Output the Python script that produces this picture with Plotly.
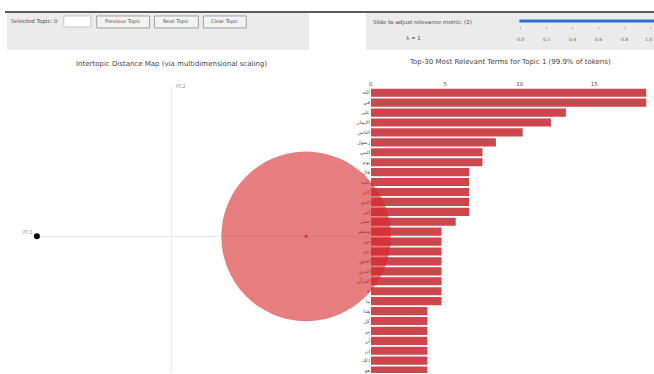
import plotly.graph_objects as go

W, H = 654, 374

# ---------------- data ----------------
topic_ids = [1]
topic_pc1 = [1.35]
topic_pc2 = [0.0]
topic_radius = [0.85]

terms = ["الله", "في", "على", "الإيمان", "الناس", "رسول", "النبي", "يوم", "قال", "عليه",
         "كان", "الذي", "إلى", "صلى", "وسلم", "من", "عن", "الحق", "الدين", "القرآن",
         "لا", "ما", "هذا", "كل", "بن", "أن", "إن", "ذلك", "هو", "لم"]
term_freq = [18.5, 18.5, 13.1, 12.1, 10.2, 8.4, 7.5, 7.5, 6.6, 6.6,
             6.6, 6.6, 6.6, 5.7, 4.75, 4.75, 4.75, 4.75, 4.75, 4.75,
             4.75, 4.75, 3.8, 3.8, 3.8, 3.8, 3.8, 3.8, 3.8, 3.8]
bar_ticks = [0, 5, 10, 15]
lambda_ticks = ["0.0", "0.2", "0.4", "0.6", "0.8", "1.0"]

FONT = "DejaVu Sans"


def px(x):
    return x / W


def py(y):
    return 1 - y / H


fig = go.Figure()

# MDS subplot (full-width canvas, equal 100px/unit scaling)
fig.add_trace(go.Scatter(
    x=topic_pc1, y=topic_pc2, mode="markers",
    marker=dict(size=3, color="rgba(150,30,30,0.8)"),
    xaxis="x", yaxis="y", hoverinfo="skip", showlegend=False))

# Bar chart
fig.add_trace(go.Bar(
    x=term_freq, y=terms, orientation="h",
    marker=dict(color="rgb(204,71,77)", line=dict(width=0)),
    xaxis="x2", yaxis="y2", showlegend=False))

shapes = []
# top dark rule
shapes.append(dict(type="line", xref="paper", yref="paper", x0=px(3), x1=px(654),
                   y0=py(12), y1=py(12), line=dict(color="rgb(90,90,90)", width=2)))
# control panels
for x0, x1 in [(5, 308), (365, 654)]:
    shapes.append(dict(type="rect", xref="paper", yref="paper", x0=px(x0), x1=px(x1),
                       y0=py(50), y1=py(13), fillcolor="rgb(235,235,235)",
                       line=dict(width=0), layer="below"))
# input box
shapes.append(dict(type="rect", xref="paper", yref="paper", x0=px(62), x1=px(89),
                   y0=py(27), y1=py(16), fillcolor="white",
                   line=dict(color="rgb(200,200,200)", width=1)))
# buttons
buttons = [("Previous Topic", 95, 148), ("Next Topic", 153, 197), ("Clear Topic", 202, 245)]
for name, x0, x1 in buttons:
    shapes.append(dict(type="rect", xref="paper", yref="paper", x0=px(x0), x1=px(x1),
                       y0=py(28), y1=py(16), fillcolor="rgb(242,242,242)",
                       line=dict(color="rgb(160,160,160)", width=1)))
# slider
shapes.append(dict(type="line", xref="paper", yref="paper", x0=px(519), x1=px(654),
                   y0=py(21), y1=py(21), line=dict(color="rgb(40,110,210)", width=3)))
for i in range(len(lambda_ticks)):
    xx = 520 + i * 26.2
    shapes.append(dict(type="line", xref="paper", yref="paper", x0=px(xx), x1=px(xx),
                       y0=py(27), y1=py(30), line=dict(color="rgb(190,190,190)", width=1)))

# PC axes lines (data coords)
shapes.append(dict(type="line", xref="x", yref="y", x0=-1.35, x1=2.0, y0=0, y1=0,
                   line=dict(color="rgb(232,232,232)", width=1), layer="below"))
shapes.append(dict(type="line", xref="x", yref="y", x0=0, x1=0, y0=-1.4, y1=1.5,
                   line=dict(color="rgb(232,232,232)", width=1), layer="below"))

# topic circles
for cx, cy, r in zip(topic_pc1, topic_pc2, topic_radius):
    shapes.append(dict(type="circle", xref="x", yref="y", x0=cx - r, x1=cx + r,
                       y0=cy - r, y1=cy + r, fillcolor="#d62728", opacity=0.6,
                       line=dict(width=0), layer="above"))

annotations = []


def txt(t, x, y, size=5.5, color="rgb(80,80,80)", xanchor="left"):
    annotations.append(dict(text=t, xref="paper", yref="paper", x=px(x), y=py(y),
                            xanchor=xanchor, yanchor="middle", showarrow=False,
                            font=dict(family=FONT, size=size, color=color)))


txt("Selected Topic: 0", 7, 21.5, 5.5)
for name, x0, x1 in buttons:
    txt(name, (x0 + x1) / 2, 22, 5, xanchor="center")
txt("Slide to adjust relevance metric: (2)", 370, 23, 5.5)
txt("λ = 1", 413, 38, 5.5, xanchor="center")
for i, lab in enumerate(lambda_ticks[:-1]):
    txt(lab, 520 + i * 26.2, 40, 4.5, color="rgb(100,100,100)", xanchor="center")
txt(lambda_ticks[-1], 654, 40, 4.5, color="rgb(100,100,100)", xanchor="right")

txt("Intertopic Distance Map (via multidimensional scaling)", 170, 64, 7,
    color="rgb(70,70,70)", xanchor="center")
txt("Top-30 Most Relevant Terms for Topic 1 (99.9% of tokens)", 510, 62, 7,
    color="rgb(70,70,70)", xanchor="center")
txt("PC2", 173, 86, 5, color="rgb(150,150,150)")
txt("PC1", 19, 233, 5, color="rgb(150,150,150)")

# black dot near PC1 label
shapes.append(dict(type="circle", xref="paper", yref="paper", x0=px(32), x1=px(38),
                   y0=py(240), y1=py(234), fillcolor="black", line=dict(width=0)))

fig.update_layout(
    width=W, height=H,
    margin=dict(l=0, r=0, t=0, b=0),
    paper_bgcolor="white", plot_bgcolor="rgba(0,0,0,0)",
    shapes=shapes, annotations=annotations,
    bargap=0.18,
    xaxis=dict(domain=[0, 1], range=[-1.70, 4.84], visible=False, fixedrange=True),
    yaxis=dict(domain=[0, py(75)], range=[-1.37, 1.62], visible=False, fixedrange=True),
    xaxis2=dict(domain=[px(370), px(648)], range=[0, 18.62], anchor="y2", side="top",
                tickvals=bar_ticks, showgrid=False, zeroline=False, showline=False,
                ticks="", tickfont=dict(family=FONT, size=5.5, color="rgb(80,80,80)")),
    yaxis2=dict(domain=[0, py(88)], anchor="x2", type="category",
                categoryorder="array", categoryarray=terms,
                range=[28.24, -0.5], showgrid=False, zeroline=False, ticks="",
                tickfont=dict(family=FONT, size=5, color="rgb(80,80,80)")),
)

fig.write_html("out.html")
